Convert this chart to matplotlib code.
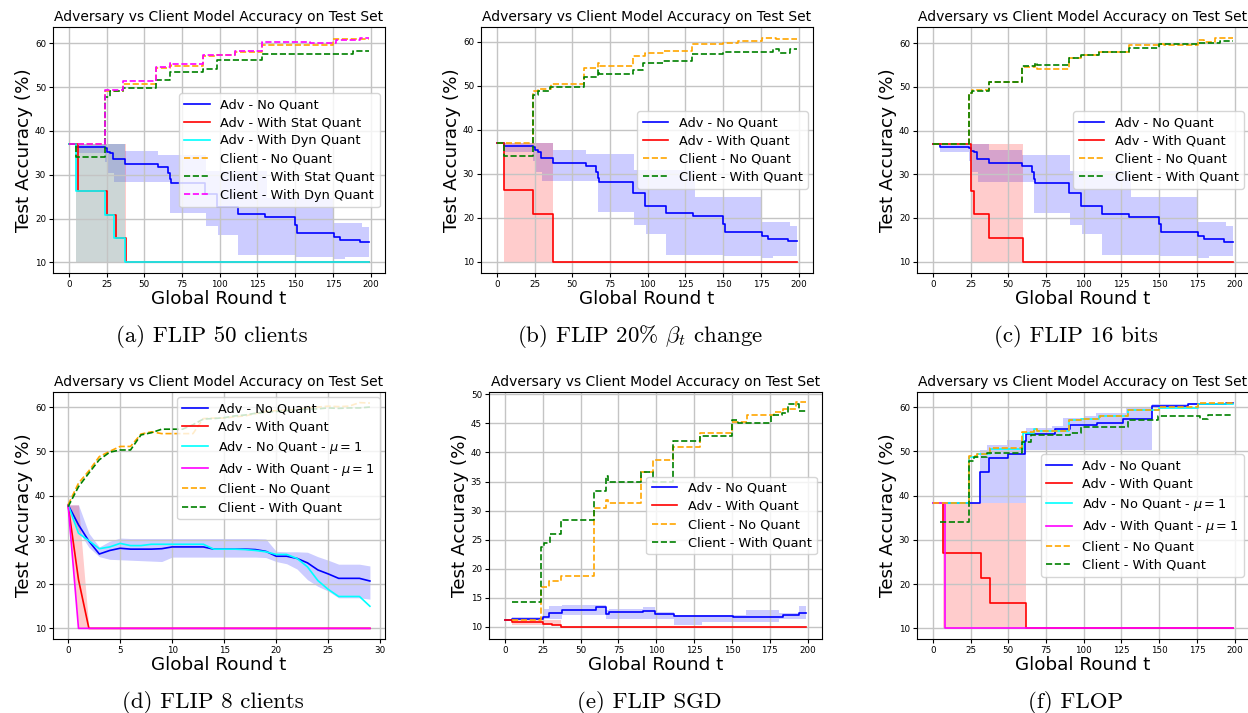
import numpy as np
import matplotlib.pyplot as plt

W, H = 1248, 713

# ---------------- (a)/(b)/(c) adversary, no quantisation (same run) ----------------
adv_x = [0, 5, 24, 25, 27, 29, 37, 59, 66, 67, 68, 90, 98, 112, 130, 150, 151, 176, 180, 193, 199]
adv_y = [37.0, 36.3, 36.0, 35.3, 35.0, 33.5, 32.5, 31.8, 30.5, 29.0, 28.1, 25.7, 22.7, 21.0, 20.3,
         18.5, 16.8, 15.8, 15.1, 14.6, 14.6]
adv_band_x = [5, 24, 26, 30, 37, 59, 67, 91, 99, 112, 131, 150, 176, 183, 194, 199]
adv_band_hi = [37.0, 37.0, 37.0, 37.0, 35.5, 34.5, 34.5, 30.8, 30.8, 30.8, 24.7, 24.7, 19.1, 19.1, 18.2, 18.2]
adv_band_lo = [35.0, 33.0, 30.5, 28.3, 28.3, 28.3, 21.2, 18.4, 16.3, 11.6, 11.6, 11.3, 10.8, 11.2, 11.2, 11.2]

# (a) FLIP 50 clients
a_stat_x = [0, 6, 25, 31, 38, 199]
a_stat_y = [37.0, 26.3, 20.9, 15.5, 10.0, 10.0]
a_dyn_x = [0, 5, 24, 30, 37, 199]
a_dyn_y = [37.0, 26.3, 20.9, 15.5, 10.0, 10.0]
a_stat_band_x = [5, 38]
a_dyn_band_x = [5, 37]
a_band_hi = [37.0, 37.0]
a_band_lo = [10.0, 10.0]
a_cl_noq_x = [0, 24, 36, 58, 67, 68, 89, 98, 110, 128, 175, 199]
a_cl_noq_y = [37.0, 49.2, 50.6, 54.3, 55.0, 54.7, 57.0, 57.3, 58.0, 59.5, 60.9, 60.9]
a_cl_stat_x = [0, 5, 24, 27, 36, 58, 67, 89, 98, 128, 188, 199]
a_cl_stat_y = [37.0, 34.0, 47.8, 49.0, 49.9, 51.6, 53.4, 54.1, 56.1, 57.6, 58.3, 58.3]
a_cl_dyn_x = [0, 24, 36, 58, 67, 68, 89, 110, 128, 160, 177, 193, 199]
a_cl_dyn_y = [37.0, 49.4, 51.3, 54.5, 55.5, 55.3, 57.3, 58.3, 60.2, 60.0, 60.8, 61.3, 61.3]

# (b) FLIP 20% beta change
b_q_x = [0, 5, 24, 37, 199]
b_q_y = [37.0, 26.3, 20.9, 10.0, 10.0]
b_q_band_x = [5, 37]
b_q_band_hi = [37.0, 37.0]
b_q_band_lo = [10.0, 10.0]
b_cl_noq_x = [0, 24, 27, 36, 58, 67, 68, 90, 98, 111, 129, 150, 160, 176, 185, 199]
b_cl_noq_y = [37.0, 48.9, 49.2, 50.5, 54.1, 55.2, 54.5, 56.8, 57.4, 57.9, 59.5, 59.8, 60.1, 60.9, 60.6, 60.6]
b_cl_q_x = [0, 5, 24, 27, 35, 58, 67, 68, 90, 97, 110, 129, 150, 183, 187, 194, 199]
b_cl_q_y = [37.0, 34.0, 47.9, 48.8, 49.7, 52.0, 53.5, 52.8, 53.5, 55.1, 55.7, 57.2, 57.7, 58.3, 57.5, 58.3, 58.3]

# (c) FLIP 16 bits
c_q_x = [0, 25, 27, 37, 60, 199]
c_q_y = [37.0, 26.2, 20.9, 15.5, 10.0, 10.0]
c_q_band_x = [25, 60]
c_q_band_hi = [37.0, 37.0]
c_q_band_lo = [10.0, 10.0]
c_cl_noq_x = [0, 24, 26, 37, 59, 68, 69, 90, 98, 110, 130, 150, 153, 176, 180, 187, 199]
c_cl_noq_y = [37.0, 48.5, 49.2, 51.0, 54.5, 55.0, 54.2, 56.7, 57.4, 58.0, 59.5, 59.8, 59.5, 60.8, 60.3, 61.1, 61.1]
c_cl_q_x = [0, 24, 26, 37, 59, 68, 69, 90, 98, 110, 130, 150, 176, 190, 199]
c_cl_q_y = [37.0, 48.5, 49.0, 51.0, 54.8, 55.4, 55.1, 56.7, 57.3, 58.0, 58.8, 59.7, 60.1, 60.6, 60.6]

# (d) FLIP 8 clients (30 rounds, one value per round)
d_rounds = np.arange(30)
d_adv = [37.9, 33.4, 29.7, 26.8, 27.6, 28.1, 27.9, 27.9, 27.9, 28.0, 28.4, 28.4, 28.4, 28.4, 27.9,
         27.9, 27.9, 27.9, 27.8, 27.4, 26.3, 26.3, 25.8, 24.8, 23.2, 22.3, 21.3, 21.3, 21.3, 20.7]
d_adv_hi = [37.9, 37.9, 31.5, 28.4, 29.7, 30.4, 30.3, 30.3, 30.3, 30.3, 30.3, 30.3, 30.3, 30.3, 30.3,
            30.3, 30.3, 30.3, 30.3, 30.2, 27.4, 27.3, 27.3, 27.2, 26.2, 25.4, 24.5, 24.5, 24.5, 24.1]
d_adv_lo = [37.9, 32.0, 28.3, 26.2, 25.6, 25.5, 25.4, 25.3, 25.2, 25.1, 26.1, 26.1, 26.1, 26.1, 26.1,
            26.1, 26.1, 26.1, 26.1, 26.0, 25.1, 24.6, 23.4, 21.0, 19.5, 18.4, 16.9, 16.9, 16.9, 16.6]
d_q = [37.9, 21.0, 10.0, 10.0, 10.0, 10.0, 10.0, 10.0, 10.0, 10.0, 10.0, 10.0, 10.0, 10.0, 10.0,
       10.0, 10.0, 10.0, 10.0, 10.0, 10.0, 10.0, 10.0, 10.0, 10.0, 10.0, 10.0, 10.0, 10.0, 10.0]
d_q_band_x = [0, 1, 2]
d_q_hi = [37.9, 37.9, 10.0]
d_q_lo = [37.9, 10.0, 10.0]
d_adv_mu = [37.9, 31.5, 29.8, 28.0, 28.4, 29.2, 28.7, 28.7, 29.0, 29.0, 29.0, 29.0, 29.0, 29.0, 27.9,
            27.9, 27.9, 27.8, 27.6, 27.3, 26.7, 26.7, 25.8, 23.9, 20.8, 18.8, 17.2, 17.2, 17.2, 15.0]
d_q_mu = [37.9, 10.0, 10.0, 10.0, 10.0, 10.0, 10.0, 10.0, 10.0, 10.0, 10.0, 10.0, 10.0, 10.0, 10.0,
          10.0, 10.0, 10.0, 10.0, 10.0, 10.0, 10.0, 10.0, 10.0, 10.0, 10.0, 10.0, 10.0, 10.0, 10.0]
d_cl_noq = [37.9, 42.8, 45.6, 48.8, 50.0, 51.1, 51.1, 53.9, 54.4, 54.0, 54.0, 54.0, 54.0, 57.4, 57.5,
            57.5, 57.8, 58.0, 58.5, 59.0, 59.2, 59.3, 59.5, 59.8, 60.0, 60.2, 60.1, 60.2, 61.0, 60.9]
d_cl_q = [37.5, 42.0, 45.1, 48.1, 49.8, 50.3, 50.3, 53.7, 54.2, 55.0, 55.0, 55.0, 56.0, 57.3, 57.4,
          57.6, 58.0, 58.2, 58.6, 58.8, 59.0, 59.2, 59.4, 59.5, 59.6, 59.8, 59.7, 59.8, 59.8, 60.0]

# (e) FLIP SGD
e_noq_x = [0, 5, 25, 29, 38, 60, 67, 69, 91, 99, 112, 151, 175, 184, 194, 199]
e_noq_y = [11.1, 11.4, 11.7, 12.3, 12.9, 13.4, 12.2, 12.5, 12.8, 12.2, 11.8, 11.6, 11.7, 12.0, 12.3, 12.3]
e_band_x = [5, 25, 29, 38, 60, 67, 69, 91, 99, 112, 130, 159, 181, 194, 199]
e_band_hi = [11.7, 13.0, 13.5, 13.8, 13.8, 12.9, 13.0, 13.4, 12.6, 12.1, 12.1, 12.9, 12.4, 13.5, 13.5]
e_band_lo = [11.1, 11.4, 11.4, 12.1, 12.1, 11.4, 11.4, 11.4, 11.4, 10.3, 10.9, 10.9, 11.4, 11.4, 11.4]
e_q_x = [0, 5, 25, 31, 37, 199]
e_q_y = [11.1, 10.8, 10.5, 10.3, 10.0, 10.0]
e_q_band_x = [5, 37, 98]
e_q_band_hi = [11.2, 10.0, 10.0]
e_q_band_lo = [10.3, 9.8, 9.8]
e_cl_noq_x = [5, 24, 29, 37, 59, 67, 68, 90, 98, 111, 129, 150, 160, 178, 184, 192, 199]
e_cl_noq_y = [11.1, 16.9, 17.9, 18.7, 30.5, 31.8, 31.3, 36.7, 38.7, 40.9, 43.4, 45.3, 46.5, 46.9, 47.5, 48.6, 48.6]
e_cl_q_x = [5, 24, 26, 30, 37, 59, 67, 68, 90, 98, 111, 129, 150, 154, 176, 183, 187, 194, 199]
e_cl_q_y = [14.2, 23.8, 24.5, 25.9, 28.4, 33.3, 35.9, 35.0, 36.6, 35.0, 41.9, 42.9, 45.5, 45.1, 46.4, 46.8,
            48.3, 47.2, 47.2]

# (f) FLOP
f_noq_x = [0, 31, 37, 50, 61, 62, 81, 91, 109, 126, 145, 169, 194, 199]
f_noq_y = [38.3, 45.4, 48.5, 49.3, 52.4, 53.8, 55.0, 56.0, 56.5, 57.2, 60.2, 60.7, 61.0, 61.0]
f_band_x = [31, 36, 49, 62, 79, 86, 100, 108, 128, 145, 170, 199]
f_band_hi = [50.3, 51.5, 52.6, 55.2, 55.8, 57.5, 58.0, 58.6, 59.7, 60.6, 61.0, 61.0]
f_band_lo = [38.3, 38.3, 38.3, 50.3, 50.3, 50.3, 50.3, 50.3, 50.3, 59.9, 60.4, 60.4]
f_q_x = [0, 7, 32, 38, 62, 199]
f_q_y = [38.3, 27.0, 21.3, 15.7, 10.0, 10.0]
f_q_band_x = [7, 62]
f_q_band_hi = [38.3, 38.3]
f_q_band_lo = [10.0, 10.0]
f_noq_mu_x = [0, 24, 29, 38, 60, 67, 69, 90, 98, 110, 129, 150, 176, 199]
f_noq_mu_y = [38.3, 48.8, 49.3, 50.6, 54.2, 55.0, 54.6, 57.0, 57.4, 58.0, 59.4, 59.8, 60.8, 60.8]
f_q_mu_x = [0, 8, 199]
f_q_mu_y = [38.3, 10.0, 10.0]
f_cl_noq_x = [0, 24, 29, 38, 59, 67, 69, 90, 98, 111, 129, 150, 176, 199]
f_cl_noq_y = [38.3, 49.0, 49.4, 50.7, 54.3, 55.1, 54.6, 57.0, 57.4, 58.0, 59.4, 59.9, 60.9, 60.9]
f_cl_q_x = [5, 24, 27, 36, 59, 65, 91, 98, 129, 149, 177, 182, 199]
f_cl_q_y = [34.0, 47.8, 48.8, 49.6, 52.0, 53.6, 54.2, 55.6, 57.1, 57.9, 57.2, 58.2, 58.2]

captions = ['(a) FLIP 50 clients', r'(b) FLIP 20% $\beta_t$ change', '(c) FLIP 16 bits',
            '(d) FLIP 8 clients', '(e) FLIP SGD', '(f) FLOP']


def stairs(ax, x, y, color, label, ls='-'):
    ax.plot(x, y, drawstyle='steps-post', color=color, ls=ls, lw=1.2, label=label)


def band(ax, x, lo, hi, color, step='post'):
    ax.fill_between(x, lo, hi, step=step, color=color, alpha=0.2, lw=0)


def new_axes(fig, left, top, width, height):
    return fig.add_axes([left / W, 1 - (top + height) / H, width / W, height / H])


def style(ax, xticks, yticks, xlim, ylim, loc):
    ax.set_title('Adversary vs Client Model Accuracy on Test Set', fontsize=10, pad=4)
    ax.set_xlabel('Global Round t', fontsize=13.2, labelpad=1)
    ax.set_ylabel('Test Accuracy (%)', fontsize=13.2, labelpad=1)
    ax.set_xticks(xticks)
    ax.set_yticks(yticks)
    ax.set_xlim(xlim)
    ax.set_ylim(ylim)
    ax.tick_params(labelsize=6.3, length=3, pad=2)
    ax.grid(True, color='#c4c4c4', lw=1)
    ax.legend(loc=loc, fontsize=9.3, labelspacing=0.4, borderaxespad=0.4)


fig = plt.figure(figsize=(W / 100, H / 100), dpi=100)
xt200 = [0, 25, 50, 75, 100, 125, 150, 175, 200]
yt = [10, 20, 30, 40, 50, 60]

# (a)
ax = new_axes(fig, 53, 27, 332, 246)
stairs(ax, adv_x, adv_y, 'blue', 'Adv - No Quant')
band(ax, adv_band_x, adv_band_lo, adv_band_hi, 'blue')
stairs(ax, a_stat_x, a_stat_y, 'red', 'Adv - With Stat Quant')
band(ax, a_stat_band_x, a_band_lo, a_band_hi, 'red')
stairs(ax, a_dyn_x, a_dyn_y, 'cyan', 'Adv - With Dyn Quant')
band(ax, a_dyn_band_x, a_band_lo, a_band_hi, 'cyan')
stairs(ax, a_cl_noq_x, a_cl_noq_y, 'orange', 'Client - No Quant', '--')
stairs(ax, a_cl_stat_x, a_cl_stat_y, 'green', 'Client - With Stat Quant', '--')
stairs(ax, a_cl_dyn_x, a_cl_dyn_y, 'magenta', 'Client - With Dyn Quant', '--')
style(ax, xt200, yt, (-10.5, 209.5), (7.6, 63.7), 'center right')

# (b)
ax = new_axes(fig, 481, 27, 332, 246)
stairs(ax, adv_x, adv_y, 'blue', 'Adv - No Quant')
band(ax, adv_band_x, adv_band_lo, adv_band_hi, 'blue')
stairs(ax, b_q_x, b_q_y, 'red', 'Adv - With Quant')
band(ax, b_q_band_x, b_q_band_lo, b_q_band_hi, 'red')
stairs(ax, b_cl_noq_x, b_cl_noq_y, 'orange', 'Client - No Quant', '--')
stairs(ax, b_cl_q_x, b_cl_q_y, 'green', 'Client - With Quant', '--')
style(ax, xt200, yt, (-10.5, 209.5), (7.4, 63.4), 'center right')

# (c)
ax = new_axes(fig, 917, 27, 332, 246)
stairs(ax, adv_x, adv_y, 'blue', 'Adv - No Quant')
band(ax, adv_band_x, adv_band_lo, adv_band_hi, 'blue')
stairs(ax, c_q_x, c_q_y, 'red', 'Adv - With Quant')
band(ax, c_q_band_x, c_q_band_lo, c_q_band_hi, 'red')
stairs(ax, c_cl_noq_x, c_cl_noq_y, 'orange', 'Client - No Quant', '--')
stairs(ax, c_cl_q_x, c_cl_q_y, 'green', 'Client - With Quant', '--')
style(ax, xt200, yt, (-10.5, 209.5), (7.4, 63.7), 'center right')

# (d)
ax = new_axes(fig, 53, 392, 332, 247)
ax.plot(d_rounds, d_adv, color='blue', lw=1.2, label='Adv - No Quant')
band(ax, d_rounds, d_adv_lo, d_adv_hi, 'blue', step=None)
ax.plot(d_rounds, d_q, color='red', lw=1.2, label='Adv - With Quant')
band(ax, d_q_band_x, d_q_lo, d_q_hi, 'red', step=None)
ax.plot(d_rounds, d_adv_mu, color='cyan', lw=1.2, label=r'Adv - No Quant - $\mu=1$')
ax.plot(d_rounds, d_q_mu, color='magenta', lw=1.2, label=r'Adv - With Quant - $\mu=1$')
ax.plot(d_rounds, d_cl_noq, color='orange', ls='--', lw=1.2, label='Client - No Quant')
ax.plot(d_rounds, d_cl_q, color='green', ls='--', lw=1.2, label='Client - With Quant')
style(ax, [0, 5, 10, 15, 20, 25, 30], yt, (-1.45, 30.45), (7.6, 63.4), 'upper right')

# (e)
ax = new_axes(fig, 489, 392, 333, 247)
stairs(ax, e_noq_x, e_noq_y, 'blue', 'Adv - No Quant')
band(ax, e_band_x, e_band_lo, e_band_hi, 'blue')
stairs(ax, e_q_x, e_q_y, 'red', 'Adv - With Quant')
band(ax, e_q_band_x, e_q_band_lo, e_q_band_hi, 'red')
stairs(ax, e_cl_noq_x, e_cl_noq_y, 'orange', 'Client - No Quant', '--')
stairs(ax, e_cl_q_x, e_cl_q_y, 'green', 'Client - With Quant', '--')
style(ax, xt200, [10, 15, 20, 25, 30, 35, 40, 45, 50], (-10.5, 209.5), (7.9, 50.4), 'center right')

# (f)
ax = new_axes(fig, 917, 392, 332, 247)
stairs(ax, f_noq_x, f_noq_y, 'blue', 'Adv - No Quant')
band(ax, f_band_x, f_band_lo, f_band_hi, 'blue')
stairs(ax, f_q_x, f_q_y, 'red', 'Adv - With Quant')
band(ax, f_q_band_x, f_q_band_lo, f_q_band_hi, 'red')
stairs(ax, f_noq_mu_x, f_noq_mu_y, 'cyan', r'Adv - No Quant - $\mu=1$')
stairs(ax, f_q_mu_x, f_q_mu_y, 'magenta', r'Adv - With Quant - $\mu=1$')
stairs(ax, f_cl_noq_x, f_cl_noq_y, 'orange', 'Client - No Quant', '--')
stairs(ax, f_cl_q_x, f_cl_q_y, 'green', 'Client - With Quant', '--')
style(ax, xt200, yt, (-10.5, 209.5), (7.6, 63.4), 'center right')

cap_pos = [(212, 336), (640, 336), (1076, 336), (213, 702), (649, 702), (1076, 702)]
for (cx, cy), text in zip(cap_pos, captions):
    fig.text(cx / W, 1 - cy / H, text, fontsize=16.5, family='cmr10', math_fontfamily='cm',
             ha='center', va='center')

fig.savefig('out.png', dpi=100)
